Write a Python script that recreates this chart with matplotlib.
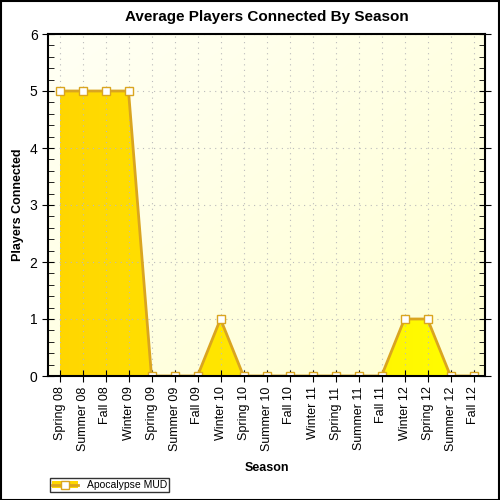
import matplotlib
matplotlib.use("Agg")
import matplotlib.pyplot as plt
import numpy as np
from matplotlib.patches import Rectangle, Patch
from matplotlib.lines import Line2D
from matplotlib.ticker import MultipleLocator

seasons = ["Spring 08", "Summer 08", "Fall 08", "Winter 09", "Spring 09", "Summer 09",
           "Fall 09", "Winter 10", "Spring 10", "Summer 10", "Fall 10", "Winter 11",
           "Spring 11", "Summer 11", "Fall 11", "Winter 12", "Spring 12", "Summer 12", "Fall 12"]
players = [5, 5, 5, 5, 0, 0, 0, 1, 0, 0, 0, 0, 0, 0, 0, 1, 1, 0, 0]
series_name = "Apocalypse MUD"

plt.rcParams['font.family'] = ['Liberation Sans', 'DejaVu Sans']

fig = plt.figure(figsize=(5, 5), dpi=100)
fig.patch.set_facecolor('white')
ax = fig.add_axes([0.096, 0.248, 0.874, 0.684])

x = np.arange(len(seasons))
ax.set_xlim(-0.5, len(seasons) - 0.5)
ax.set_ylim(0, 6)

# background gradient
gx = np.linspace(0, 1, 200)
gy = np.linspace(0, 1, 200)
GX, GY = np.meshgrid(gx, gy)
t = (GX + GY) / 2  # 0 at top-left
c0 = np.array([1.0, 1.0, 0.96])
c1 = np.array([1.0, 1.0, 0.82])
bg = c0[None, None, :] * (1 - t[..., None]) + c1[None, None, :] * t[..., None]
ax.imshow(bg, extent=[-0.5, len(seasons) - 0.5, 0, 6], aspect='auto', zorder=0, origin='upper')

# area with horizontal gradient
poly = ax.fill_between(x, players, 0, color='none', zorder=2)
h = np.linspace(0, 1, 300)
a0 = np.array([1.0, 0.84, 0.0])
a1 = np.array([1.0, 1.0, 0.0])
grad = a0[None, None, :] * (1 - h[None, :, None]) + a1[None, None, :] * h[None, :, None]
grad = np.repeat(grad, 2, axis=0)
im = ax.imshow(grad, extent=[x[0], x[-1], 0, max(players)], aspect='auto', zorder=2)
im.set_clip_path(poly.get_paths()[0], transform=ax.transData)

line_color = '#DAA520'
ax.plot(x, players, color=line_color, lw=2, zorder=3, clip_on=True,
        marker='s', markersize=5.5, markerfacecolor='white', markeredgecolor=line_color,
        markeredgewidth=1)

ax.set_xticks(x)
ax.set_xticklabels(seasons, rotation=90, fontsize=9)
ax.yaxis.set_major_locator(MultipleLocator(1))
ax.yaxis.set_minor_locator(MultipleLocator(0.2))
ax.tick_params(axis='y', which='major', direction='inout', length=8, labelsize=10)
ax.tick_params(axis='y', which='minor', direction='in', length=4)
ax.tick_params(axis='y', which='both', right=True)
ax.tick_params(axis='x', direction='inout', length=8, labelsize=9)
ax.grid(True, color='#BBBBBB', linestyle=(0, (1, 4)), lw=0.8, zorder=1)
ax.set_axisbelow(False)
for s in ax.spines.values():
    s.set_linewidth(1.5)
    s.set_zorder(5)

ax.set_title("Average Players Connected By Season", fontsize=11, fontweight='bold', pad=9)
ax.set_xlabel("Season", fontsize=9, fontweight='bold', labelpad=8)
ax.set_ylabel("Players Connected", fontsize=9, fontweight='bold', labelpad=4)

handle = (Patch(facecolor='#FFD700', edgecolor='none'),
          Line2D([], [], color=line_color, lw=2, marker='s', markersize=5.5,
                 markerfacecolor='white', markeredgecolor=line_color))
leg = fig.legend([handle], [series_name], loc='lower left', bbox_to_anchor=(0.09, 0.005),
                 fontsize=7.5, frameon=True, fancybox=False, edgecolor='black',
                 borderpad=0.2, handlelength=2.5, handletextpad=0.8)
leg.get_frame().set_linewidth(1)

fig.add_artist(Rectangle((0.001, 0.001), 0.997, 0.997, transform=fig.transFigure,
                         fill=False, edgecolor='black', lw=1.5))

fig.savefig("out.png", dpi=100)
